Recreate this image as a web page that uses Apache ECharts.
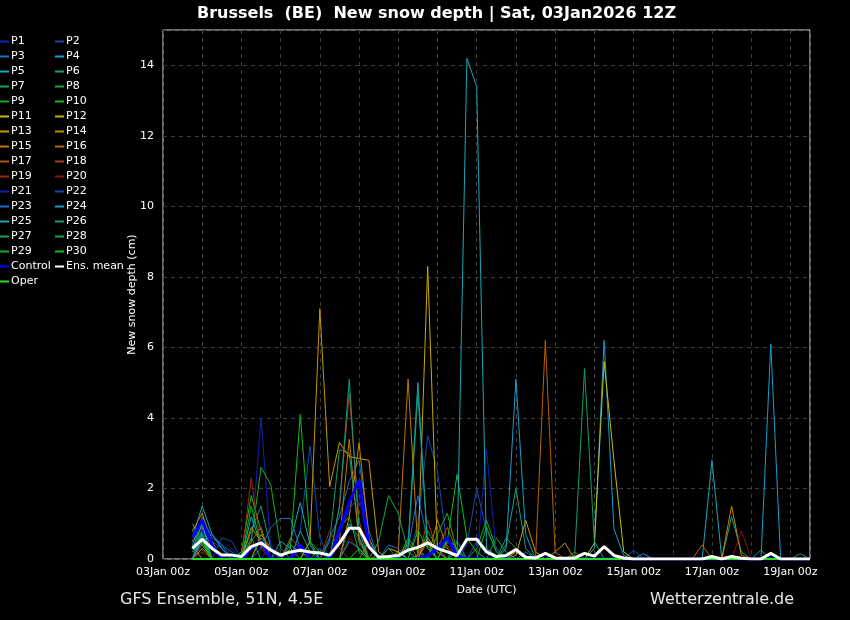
<!DOCTYPE html>
<html>
<head>
<meta charset="utf-8">
<title>Brussels new snow depth</title>
<script src="https://cdn.jsdelivr.net/npm/echarts@6/dist/echarts.min.js"></script>
<style>
  html, body { margin: 0; padding: 0; background: #000; }
  #chart { width: 850px; height: 620px; }
</style>
</head>
<body>
<div id="chart"></div>
<script>
// lead times: hours after 03Jan 00z, 6-hourly from 03Jan 18z to 19Jan 12z
var leadHours = [];
for (var h = 18; h <= 396; h += 6) leadHours.push(h);

var tickLabels = ['03Jan 00z', '05Jan 00z', '07Jan 00z', '09Jan 00z', '11Jan 00z',
                  '13Jan 00z', '15Jan 00z', '17Jan 00z', '19Jan 00z'];

// new snow depth (cm) per member
var p1  = [0.5,0.9,0.3,0,0,0,0.4,4.0, 0.3,0,0,0,0,0,0,0.4, 1.0,0.5,0,0,0,0,0,0, 0,0.3,0,0,0,0,0.2,0, 0,0,0,0,0,0,0,0, 0,0,0,0,0,0,0,0, 0,0,0,0,0,0,0,0, 0,0,0,0,0,0,0,0];
var p2  = [0,0.7,0.5,0.3,0,0,0,0, 0,0,0,0.8,3.2,0.6,0,0, 0,0,0,0,0,0,0,1.0, 3.5,2.5,0.3,0,0,0.5,0.3,0, 0,0,0,0,0,0,0,0, 0,0,0,0,0,0.25,0,0, 0,0,0,0,0,0,0,0, 0,0,0,0,0,0,0,0];
var p3  = [0.4,1.2,0.6,0.4,0.2,0,0,0, 0,0,0,0,0,0,0.6,1.2, 2.2,2.8,0.8,0,0,0,0.3,1.8, 0.5,0,0,0,0,0,0,0, 0,0,0.2,0,0,0,0,0, 0,0,0,0,0,0,0,0, 0,0,0,0,0,0,0,0, 0,0,0,0,0,0,0,0];
var p4  = [0,0.8,0,0,0,0,0,0, 0,0.5,0.3,0,0,0,0,0, 0,0,0,0,0,0,0,0, 0,0,0,0,0,0,0,0, 0,0,0,0,0,0,0,0, 0,0.3,6.2,0.85,0.1,0,0.15,0, 0,0,0,0,0,0,0,0, 0,0,0,0,0,0,0,0];
var p5  = [0.6,1.5,0.7,0.3,0,0,1.2,0.4, 0,0,0.5,1.6,0.4,0,0,0, 0,0,0,0,0,0,0.4,5.0, 0.3,0,0,0,0,0,0,0, 0,0,0,0,0,0,0,0, 0,0,0,0,0,0,0,0, 0,0,0,0,0,2.8,0,0, 0,0,0,0,0,0,0,0];
var p6  = [0.3,0.6,0,0,0,0,0.8,1.5, 0.3,0,0,0,0,0,0,0, 1.0,0.6,0,0,0,0,0,0, 0,0,0,0.5,0,0,0,0, 0.4,2.0,0.3,0,0,0,0,0, 0,0,0,0,0,0,0,0, 0,0,0,0,0,0,0,1.2, 0.2,0,0,0,0,0,0,0];
var p7  = [1.0,0.5,0,0,0,0,0,0, 0,0,0,0,0,0,0.5,3.1, 3.0,0.6,0,0,0,0,0,0, 0,0,0.5,0.2,0,0,0,0, 0,0,0,0,0,0,0,0, 0,0,0,0,0,0,0,0, 0,0,0,0,0,0,0,0, 0,0,0.25,0,0,0,0,0];
var p8  = [0.7,0.4,0,0,0,0,0,0.6, 0.3,0,0,0,0.5,0.2,0,0, 0,0,0,0,0,0,0,0, 0.8,0.3,0,0,0,0,0,0.6, 0.2,0,0,0,0,0,0,0, 0,0,0,0,0,0,0,0, 0,0,0,0,0,0,0,0, 0,0,0,0,0,0,0.15,0];
var p9  = [0.3,0.8,0,0,0,0,0.5,2.6, 2.1,0.3,0,0,0,0,0,0, 0,0,0.5,0,0,0,0.6,0.2, 0,0,0,0,0,0.3,1.1,0.3, 0,0,0,0,0,0,0,0, 0,0,0,0,0,0,0,0, 0,0,0,0,0,0,0,0, 0,0,0,0,0,0,0,0];
var p10 = [0.4,0,0,0,0,0.2,1.8,0.8, 0,0,0,0,0,0,0,0, 0,0,0,0,0,0.2,0,0, 0,0,0.5,2.4,0.6,0.2,0,0, 0,0,0,0,0,0,0,0, 0,0,0,0,0,0,0,0, 0,0,0,0,0,0,0,0, 0,0,0,0,0,0,0,0];
var p11 = [0,0.5,0.3,0,0,0,0,0, 0,0,0,0,0,0,0,0, 0,0,0,0,0.3,0.2,0,0, 0.6,0.2,0,0,0,0,0,0, 0,0,0,0,0,0,0,0, 0,0.45,5.6,2.8,0.2,0,0,0, 0,0,0,0,0,0,0,0, 0,0,0,0,0,0,0,0];
var p12 = [0,0.3,0,0,0,0,0,0, 0,0,0,0,0,0,0,0, 0,0,0,0,0,0,0,0.1, 8.3,0.2,0,0,0,0,0,0, 0,0.2,0,0,0,0,0,0, 0,0,0,0,0,0,0,0, 0,0,0,0,0,0,0,0, 0,0,0,0,0,0,0,0];
var p13 = [0.6,1.0,0.5,0,0,0,0,0, 0,0,0,0,0.5,7.1,2.05,3.3, 2.9,2.85,2.8,0.2,0,0,0,0, 0,0,0,0,0,0,0,0, 0,0.1,1.1,0.2,0,0.2,0.45,0, 0,0,0,0,0,0,0,0, 0,0,0,0,0,0,0,0, 0,0,0,0,0,0,0,0];
var p14 = [0.8,1.3,0.4,0,0,0,0.9,0.5, 0,0,0,0,0,0,0,0, 1.2,3.3,0.6,0,0,0,0,0, 0,0,0,0,0,0,0,0, 0,0,0,0,0,0,0,0, 0,0,0,0,0,0,0,0, 0,0,0,0,0,0,0,1.5, 0.1,0,0,0,0,0,0,0];
var p15 = [0.5,0.9,0.3,0,0,0,0,0.7, 0.3,0,0,0,0,0,0,0.5, 3.4,0.5,0,0,0,0.2,5.1,0.3, 0,1.1,0.3,0,0,0,0,0, 0,0,0,0,0,0,0,0, 0,0,0,0,0,0,0,0, 0,0,0,0,0,0,0,0, 0,0,0,0,0,0,0,0];
var p16 = [0,0.6,0,0,0,0,0.5,0.9, 0,0,0,0,0,0,0,0, 0,0,0,0.1,0,0,0.5,0, 0,0,0,0,0,0,0,0, 0,0,0,0,6.2,0.2,0,0, 0,0,0,0,0,0,0,0, 0,0,0,0,0.4,0,0,0, 0,0,0,0,0,0,0,0];
var p17 = [0.2,0.5,0,0,0,0,0,0, 0,0,0.6,0.3,0,0,0,0, 0,0,0,0,0,0,0,0, 0.5,0.3,0.9,0.2,0,0,0,0, 0,0,0,0,0,0,0,0.2, 0,0,0,0,0,0,0,0, 0,0,0,0,0,0,0,0, 0,0,0,0,0,0,0,0];
var p18 = [0,0.4,0,0,0,0,0,0, 0,0,0,0,0,0,0,1.5, 4.7,1.1,0,0,0,0,0,0, 1.1,0.2,0,0,0,0,0,0, 0,0,0,0,0,0,0,0, 0,0,0,0,0,0,0,0, 0,0,0,0,0,0,0,0, 0,0,0,0,0,0,0,0];
var p19 = [0.3,0,0,0,0,0,2.3,0.3, 0,0,0,0,0,0,0.8,0.3, 0,0,0,0,0,0,0,0, 0,0,0.4,0,0,0,0,0, 0,0,0,0,0,0,0,0, 0,0,0,0,0,0,0,0, 0,0,0,0,0,0,0,0, 0,0,0,0,0,0,0,0];
var p20 = [0,0.2,0,0,0,0,0,0, 0,0,0,0,0,0,0,0, 0.6,0.3,0,0,0,0,0,0, 0,0,0,0,0,0,0,0, 0,0,0,0,0,0,0,0, 0,0,0,0,0,0,0,0, 0,0,0,0,0,0,0,0, 0.8,0,0,0,0,0,0,0];
var p21 = [0.6,0.8,0,0,0.3,0,0,0, 0.4,0,0,0,0,0,0,0.7, 1.4,1.8,0.3,0,0,0,0,0, 0,0,0,0,0,0,3.1,0.2, 0,0,0,0,0,0,0,0, 0,0,0,0,0,0,0,0, 0,0,0,0,0,0,0,0, 0,0,0,0,0,0,0,0];
var p22 = [0,1.0,0,0.6,0.5,0,0,0, 0,0.3,0,0,0,0,0,0, 0,0,0,0,0,0,0,0, 0,0,0,0,0.4,2.0,0.8,0.3, 0,0.3,0,0,0,0,0,0, 0,0,0,0,0,0,0,0, 0,0,0,0,0,0,0,0, 0,0,0,0,0,0,0,0];
var p23 = [0,0.5,0.7,0.4,0,0,0,0.3, 0.9,1.15,1.15,0.3,0,0.3,0,0, 0,0,0,0,0.4,0.3,0,0, 0,0,0,0,0,0,0,0, 0,0,0,0,0,0,0,0, 0,0,0,0,0,0,0,0, 0,0,0,0,0,0,0,0, 0,0,0,0,0,0,0,0];
var p24 = [0,0.6,0,0,0,0,0,0, 0,0,0,0,0,0,0,0, 0.5,0.3,0,0,0,0,0,0, 0,0,0,0,0,0,0,0, 0.3,5.1,0.7,0,0,0,0,0, 0,0,0,0,0,0,0,0, 0,0,0,0,0,0,0,0, 0,0,0,6.1,0,0,0,0];
var p25 = [0.3,1.0,0,0,0,0,0,0, 0,0,0,0,0,0,0,0, 0,0,0,0,0,0,0,0, 0,0,0,0.2,14.2,13.4,0.3,0.1, 0,0,0,0,0,0,0,0, 0,0,0,0,0,0,0,0, 0,0,0,0,0,0,0,0, 0,0,0,0,0,0,0,0];
var p26 = [0,0.7,0,0,0,0,0,0, 0,0,0,0.8,0.2,0,0,1.5, 5.1,0.8,0,0,0,0,0.3,4.7, 0.4,0,0,0,0,0,0,0, 0,0,0,0,0,0,0,0, 0,0,0,0,0,0,0,0, 0,0,0,0,0,0,0,0, 0,0,0,0,0,0,0,0];
var p27 = [0.5,0.7,0,0,0,0,0,0, 0,0,0.4,0.2,0,0,0,0, 0,0,0,0,0.3,0,0,0, 0,0,0,0,0,0,0,0, 0,0,0,0,0,0,0,0.1, 5.4,0.5,0,0,0,0,0,0, 0,0,0,0,0,0,0,0, 0,0,0,0,0,0,0,0];
var p28 = [0.8,0.4,0,0,0,0,0.6,0, 0,0,0,0,0,0,0,0, 0,0,0,0.5,1.8,1.3,0.2,0, 0,0,0.6,0.3,0,0,0,0, 0.6,0.3,0,0,0,0,0,0, 0,0,0,0,0,0,0,0, 0,0,0,0,0,0,0,0, 0,0,0,0,0,0,0,0];
var p29 = [0.2,0.6,0,0,0,0,1.5,0.4, 0,0,0,0,0,0,0,0.9, 1.2,0.2,0,0,0,0,0,0, 0,0.7,1.3,0.2,0,0,0,0, 0,0,0,0,0,0,0,0, 0,0,0,0,0,0,0,0, 0,0,0,0,0,0,0,0, 0,0,0,0,0,0,0,0];
var p30 = [0.3,0.5,0,0,0,0,0,0, 0,0,0.3,4.1,0.5,0,0,0, 0,0.3,0,0,0,0,0,0.8, 0.3,0,0,0,0,0,0.9,0.2, 0,0,0,0,0,0,0,0, 0,0,0,0,0,0,0,0, 0,0,0,0,0,0,0,0, 0,0,0,0,0,0,0,0];
var control = [0.6,1.1,0.4,0,0,0,0.3,0.5, 0,0,0,0.4,0,0,0,0.8, 1.6,2.24,0.4,0,0,0,0,0, 0.1,0.3,0.6,0.1,0,0,0,0, 0,0,0,0,0,0,0,0, 0,0,0,0,0,0,0,0, 0,0,0,0,0,0,0,0, 0,0,0,0,0,0,0,0];
var oper    = [0,0,0,0,0,0,0,0, 0,0,0,0,0,0,0,0, 0,0,0,0,0,0,0,0, 0,0,0,0,0,0,0,0, 0,0,0,0,0,0,0,0, 0,0,0,0,0,0,0,0, 0,0,0,0,0,0,0,0, 0,0,0,0,0,0,0,0];
var ensMean = [0.3,0.56,0.3,0.11,0.11,0.07,0.35,0.46, 0.25,0.11,0.2,0.25,0.2,0.17,0.11,0.45, 0.87,0.87,0.35,0.05,0.07,0.1,0.25,0.33, 0.46,0.3,0.2,0.1,0.56,0.56,0.2,0.07, 0.1,0.27,0.05,0.03,0.16,0.03,0.02,0.03, 0.16,0.08,0.35,0.1,0.03,0,0,0, 0,0,0,0,0,0.07,0,0.07, 0.02,0,0,0.16,0,0,0,0];

var members = [p1,p2,p3,p4,p5,p6,p7,p8,p9,p10,p11,p12,p13,p14,p15,p16,p17,p18,p19,p20,
               p21,p22,p23,p24,p25,p26,p27,p28,p29,p30];

// colour cycle used for P1..P20, repeated for P21..P30
var memberColors = ['#1022b4','#1048b8','#1670c4','#189ed0','#18a8b8','#10a080','#10a060','#10a844','#10b020','#10c010',
                    '#c0c000','#c8aa00','#c89800','#c88800','#c07800','#b86400','#b05010','#a83c18','#a02818','#901010'];

var series = [];
members.forEach(function (vals, k) {
  series.push({
    name: 'P' + (k + 1),
    type: 'line',
    data: leadHours.map(function (hr, i) { return [hr, vals[i]]; }),
    symbol: 'none',
    color: memberColors[k % 20],
    lineStyle: { width: 1 },
    z: 2
  });
});
series.push({
  name: 'Control', type: 'line', symbol: 'none', color: '#0000ff',
  data: leadHours.map(function (hr, i) { return [hr, control[i]]; }),
  lineStyle: { width: 3 }, z: 3
});
series.push({
  name: 'Oper', type: 'line', symbol: 'none', color: '#22dd22',
  data: leadHours.map(function (hr, i) { return [hr, oper[i]]; }),
  lineStyle: { width: 2 }, z: 4
});
series.push({
  name: 'Ens. mean', type: 'line', symbol: 'none', color: '#ffffff',
  data: leadHours.map(function (hr, i) { return [hr, ensMean[i]]; }),
  lineStyle: { width: 3 }, z: 5
});

var col1 = [], col2 = [];
for (var k = 1; k <= 30; k++) (k % 2 ? col1 : col2).push('P' + k);
col1.push('Control', 'Oper');
col2.push('Ens. mean');

var legendBase = {
  orient: 'vertical',
  top: 36,
  padding: 0,
  itemWidth: 9,
  itemHeight: 2,
  itemGap: 4,
  icon: 'rect',
  selectedMode: false,
  textStyle: { color: '#fff', fontSize: 11, lineHeight: 11, fontFamily: 'DejaVu Sans', padding: [0, 0, 0, -3] }
};

var chart = echarts.init(document.getElementById('chart'));
chart.setOption({
  animation: false,
  backgroundColor: '#000',
  textStyle: { fontFamily: 'DejaVu Sans' },
  title: [
    { text: 'Brussels  (BE)  New snow depth | Sat, 03Jan2026 12Z', left: 192, top: 1,
      textStyle: { color: '#fff', fontSize: 16, fontWeight: 'bold', fontFamily: 'DejaVu Sans' } },
    { text: 'GFS Ensemble, 51N, 4.5E', left: 115, top: 587,
      textStyle: { color: '#e6e6e6', fontSize: 16, fontWeight: 'normal', fontFamily: 'DejaVu Sans' } },
    { text: 'Wetterzentrale.de', left: 645, top: 587,
      textStyle: { color: '#e6e6e6', fontSize: 16, fontWeight: 'normal', fontFamily: 'DejaVu Sans' } }
  ],
  legend: [
    Object.assign({}, legendBase, { left: 0, data: col1 }),
    Object.assign({}, legendBase, { left: 55, data: col2 })
  ],
  grid: {
    left: 163, right: 40, top: 30, bottom: 61,
    show: true, borderColor: '#e0e0e0', borderWidth: 1, backgroundColor: 'transparent'
  },
  xAxis: {
    type: 'value',
    min: 0, max: 396, interval: 24,
    name: 'Date (UTC)', nameLocation: 'middle', nameGap: 26,
    nameTextStyle: { color: '#fff', fontSize: 11 },
    axisLine: { show: false },
    axisTick: { show: false },
    axisLabel: {
      color: '#fff', fontSize: 11, margin: 8,
      formatter: function (v) { return v % 48 === 0 ? tickLabels[v / 48] : ''; }
    },
    splitLine: { show: true, lineStyle: { color: '#3c3c3c', type: [4, 4], width: 1 } }
  },
  yAxis: {
    type: 'value',
    min: 0, max: 15, interval: 2,
    name: 'New snow depth (cm)', nameLocation: 'middle', nameGap: 25,
    nameMoveOverlap: false,
    nameTextStyle: { color: '#fff', fontSize: 11 },
    axisLine: { show: false },
    axisTick: { show: false },
    axisLabel: {
      color: '#fff', fontSize: 11, margin: 9,
      formatter: function (v) { return v === 15 ? '' : String(v); }
    },
    splitLine: { show: true, lineStyle: { color: '#3c3c3c', type: [4, 4], width: 1 } }
  },
  series: series
});
</script>
</body>
</html>
